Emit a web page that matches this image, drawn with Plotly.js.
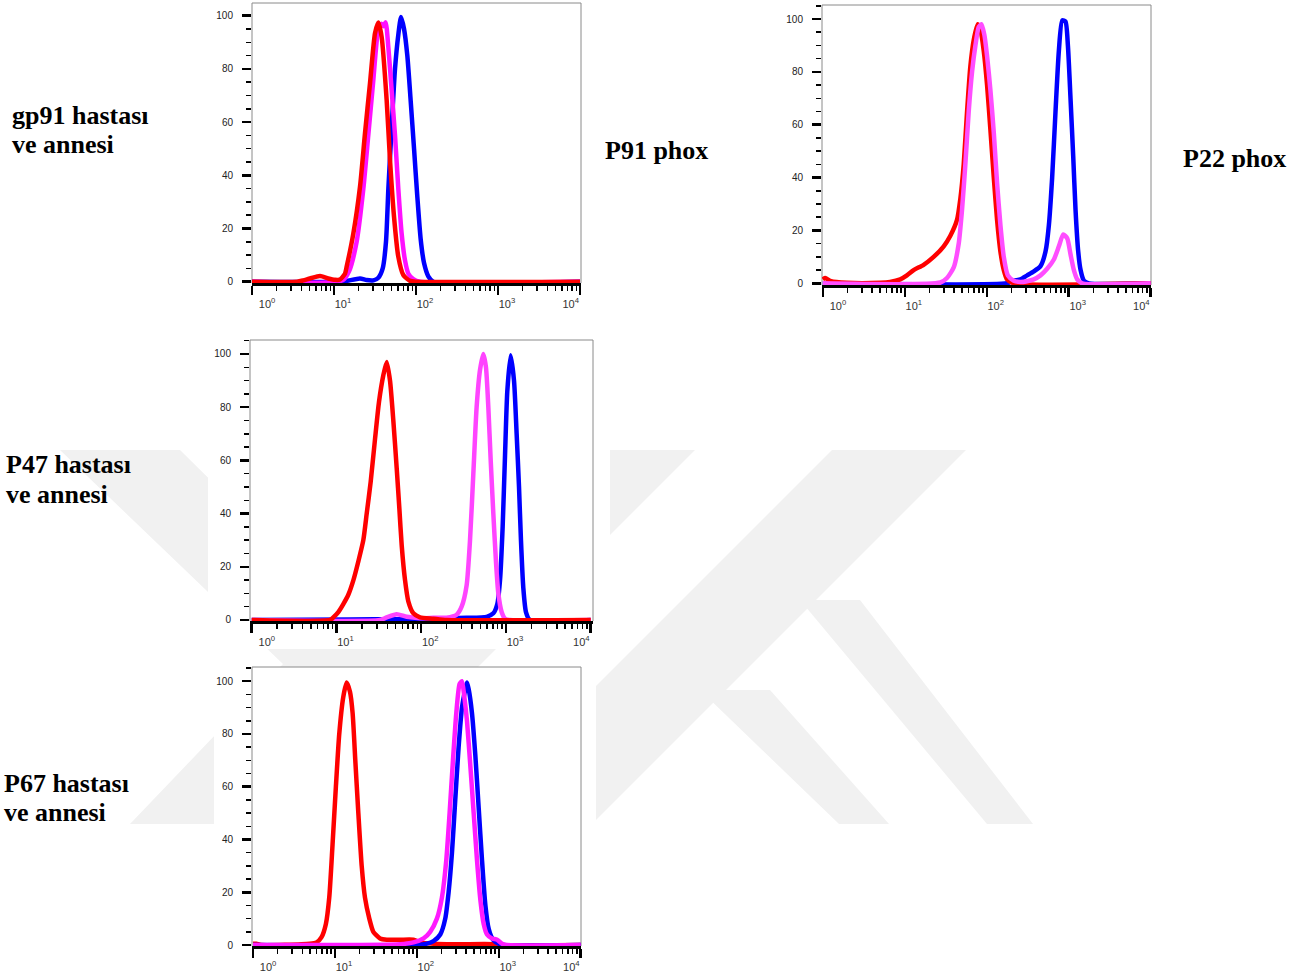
<!DOCTYPE html>
<html>
<head>
<meta charset="utf-8">
<script src="https://cdn.plot.ly/plotly-3.0.1.min.js"></script>
<style>html,body{margin:0;padding:0;background:#fff;}#chart{width:1311px;height:978px;}</style>
</head>
<body>
<div id="chart"></div>
<script>
// ---- Data: x given as log10(fluorescence intensity), y = % of max ----
// Panel 1: gp91 patient & mother, P91 phox
const p91_blue_log = [0, 1.073, 1.154, 1.317, 1.398, 1.48, 1.541, 1.594, 1.634, 1.663, 1.703, 1.744, 1.785, 1.817, 1.854, 1.894, 1.935, 1.976, 2.016, 2.057, 2.098, 2.15, 2.211, 4.0];
const p91_blue_y   = [0, 0, 0.3, 1.2, 0.6, 0.5, 1.5, 5, 15, 35, 58, 80, 93, 99.5, 95, 85, 68, 50, 32, 16, 7, 2, 0, 0];
const p91_mag_log  = [0, 1.104, 1.185, 1.276, 1.358, 1.418, 1.48, 1.541, 1.58, 1.602, 1.63, 1.663, 1.703, 1.744, 1.784, 1.825, 1.866, 1.907, 1.967, 2.049, 4.0];
const p91_mag_y    = [0, 0.5, 4, 15, 35, 55, 76, 95, 97, 96, 97.5, 88, 72, 55, 35, 18, 8, 3, 1, 0, 0];
const p91_red_log  = [0, 0.55, 0.626, 0.707, 0.829, 0.93, 1.012, 1.073, 1.134, 1.154, 1.236, 1.317, 1.378, 1.439, 1.5, 1.541, 1.581, 1.642, 1.683, 1.732, 1.784, 1.845, 1.927, 2.0, 4.0];
const p91_red_y    = [0, 0, 0.5, 1.2, 2.1, 1.2, 0.7, 0.8, 3, 5.6, 18.2, 35.7, 55.8, 74.6, 93.4, 97.4, 92, 68.3, 45.7, 24.4, 9.4, 2.5, 0.3, 0, 0];

// Panel 2: P22 phox
const p22_blue_log = [0, 2.248, 2.33, 2.411, 2.493, 2.574, 2.656, 2.717, 2.758, 2.798, 2.839, 2.88, 2.921, 2.961, 2.99, 3.022, 3.055, 3.083, 3.116, 3.145, 3.185, 3.246, 4.0];
const p22_blue_y   = [0, 0, 1, 1.5, 3, 4.5, 6.5, 12, 22, 40, 65, 88, 99.5, 99, 90, 70, 48, 28, 12, 5, 1, 0, 0];
const p22_red_log  = [0, 0.03, 0.1, 0.29, 0.7, 0.82, 0.945, 1.026, 1.108, 1.23, 1.352, 1.475, 1.556, 1.637, 1.678, 1.719, 1.76, 1.8, 1.841, 1.89, 1.923, 1.963, 2.004, 2.045, 2.086, 2.126, 2.167, 2.208, 2.248, 2.33, 4.0];
const p22_red_y    = [1.5, 2, 0.8, 0.2, 0.2, 0.5, 1.5, 3, 5, 7, 10, 14, 18, 24, 32, 45, 65, 82, 92, 98, 96, 88, 75, 58, 40, 24, 12, 5, 1.5, 0, 0];
const p22_mag_log  = [0, 1.434, 1.515, 1.597, 1.658, 1.699, 1.739, 1.78, 1.821, 1.862, 1.902, 1.935, 1.971, 2.004, 2.045, 2.086, 2.126, 2.167, 2.208, 2.257, 2.33, 2.411, 2.493, 2.574, 2.656, 2.737, 2.819, 2.88, 2.933, 2.982, 3.022, 3.063, 3.104, 3.165, 4.0];
const p22_mag_y    = [0, 0.3, 2, 6, 15, 28, 45, 65, 80, 90, 97, 98, 94, 86, 73, 57, 38, 22, 10, 3, 1, 0.5, 0.8, 1.5, 3, 5.5, 9, 14, 18.5, 17, 11, 5, 1.5, 0, 0];

// Panel 3: P47 patient & mother
const p47_blue_log = [0, 1.16, 1.75, 2.143, 2.536, 2.772, 2.851, 2.898, 2.93, 2.961, 2.989, 3.016, 3.055, 3.095, 3.126, 3.154, 3.177, 3.205, 3.236, 3.283, 4.0];
const p47_blue_y   = [0, 0.2, 0.3, 0.5, 0.8, 1.2, 2.5, 6, 15, 35, 62, 86, 99.5, 90, 70, 50, 30, 12, 3, 0, 0];
const p47_mag_log  = [0, 1.515, 1.593, 1.711, 1.829, 1.986, 2.143, 2.3, 2.418, 2.477, 2.536, 2.576, 2.615, 2.654, 2.694, 2.733, 2.764, 2.792, 2.82, 2.851, 2.882, 2.91, 2.949, 2.989, 3.048, 4.0];
const p47_mag_y    = [0, 0, 1, 2.2, 1.2, 0.7, 0.8, 0.9, 2, 5, 13, 30, 55, 80, 94, 100, 95, 80, 60, 40, 22, 10, 3, 0.5, 0, 0];
const p47_red_log  = [0, 0.924, 0.963, 1.022, 1.081, 1.14, 1.2, 1.258, 1.317, 1.357, 1.404, 1.455, 1.502, 1.553, 1.593, 1.632, 1.671, 1.711, 1.742, 1.77, 1.809, 1.848, 1.907, 1.986, 2.143, 2.3, 4.0];
const p47_red_y    = [0, 0, 1, 3, 6, 9.5, 15, 22, 30, 40, 52, 68, 82, 92, 97, 90, 75, 57, 42, 28, 15, 7, 2.5, 1, 0.5, 0, 0];

// Panel 4: P67 patient & mother
const p67_red_log  = [0, 0.04, 0.1, 0.694, 0.776, 0.837, 0.89, 0.931, 0.971, 1.012, 1.053, 1.102, 1.143, 1.184, 1.216, 1.249, 1.286, 1.327, 1.367, 1.42, 1.469, 1.551, 1.633, 1.796, 1.959, 2.041, 2.204, 2.449, 2.939, 3.02, 4.0];
const p67_red_y    = [0.5, 0.5, 0, 0.5, 1, 3, 8, 18, 38, 60, 80, 94, 99.5, 96, 88, 70, 50, 30, 18, 10, 5, 2.5, 2, 2, 2, 1, 0.5, 0.3, 0.3, 0, 0];
const p67_blue_log = [0, 2.0, 2.122, 2.204, 2.286, 2.347, 2.388, 2.429, 2.469, 2.51, 2.551, 2.592, 2.612, 2.633, 2.673, 2.714, 2.755, 2.796, 2.837, 2.878, 2.931, 3.0, 3.061, 4.0];
const p67_blue_y   = [0, 0, 0.5, 1.5, 4, 10, 20, 35, 55, 75, 90, 97, 99.5, 97, 88, 72, 52, 32, 15, 6, 2, 0.5, 0, 0];
const p67_mag_log  = [0, 1.796, 1.959, 2.082, 2.163, 2.245, 2.306, 2.359, 2.4, 2.441, 2.482, 2.522, 2.551, 2.58, 2.612, 2.653, 2.694, 2.735, 2.776, 2.816, 2.857, 2.918, 2.98, 3.041, 3.102, 4.0];
const p67_mag_y    = [0, 0.3, 1, 2.5, 5, 10, 18, 32, 50, 70, 88, 99, 100, 94, 85, 68, 50, 32, 17, 8, 4, 2.5, 2, 0.5, 0, 0];

// Tick labels (first/last decade labels sit inward, as in the original FlowJo plots)
const FS = '\u2007';
const xTickVals = [1, 10, 100, 1000, 10000];
const xTickText = [FS + FS + '10<sup>0</sup>', '10<sup>1</sup>', '10<sup>2</sup>', '10<sup>3</sup>', '10<sup>4</sup>' + FS.repeat(6)];
const yTickVals = [0, 20, 40, 60, 80, 100];

// Labels
const rowLabels = [
  {lines: ['gp91 hastası', 've annesi'], x: 10, y: [115.5, 144.5]},
  {lines: ['P47 hastası', 've annesi'], x: 4, y: [464.5, 494.5]},
  {lines: ['P67 hastası', 've annesi'], x: 2, y: [783.5, 812]}
];
const sideLabels = [
  {text: 'P91 phox', x: 603, y: 150},
  {text: 'P22 phox', x: 1181, y: 158}
];

// ---- Layout helpers ----
const W = 1311, H = 978;
const px = v => v / W;
const py = v => 1 - v / H;
const toX = arr => arr.map(e => Math.pow(10, e));

const RED = '#ff0000', BLUE = '#0000ff';
const panels = [
  {xd: [252, 581], yd: [3, 283], xr: [0, 4.012], yr: [-0.49, 104.77],
   series: [[p91_blue_log, p91_blue_y, BLUE], [p91_mag_log, p91_mag_y, '#ff10ff'], [p91_red_log, p91_red_y, RED]]},
  {xd: [822, 1151], yd: [5, 285], xr: [-0.01, 4.004], yr: [-0.64, 105.3],
   series: [[p22_blue_log, p22_blue_y, BLUE], [p22_red_log, p22_red_y, RED], [p22_mag_log, p22_mag_y, '#ff4dff']]},
  {xd: [250, 593], yd: [340, 621], xr: [-0.02, 4.027], yr: [-0.38, 105.26],
   series: [[p47_blue_log, p47_blue_y, BLUE], [p47_mag_log, p47_mag_y, '#ff44ff'], [p47_red_log, p47_red_y, RED]]},
  {xd: [252, 581], yd: [667, 946], xr: [-0.012, 4.004], yr: [-0.38, 105.4],
   series: [[p67_red_log, p67_red_y, RED], [p67_blue_log, p67_blue_y, BLUE], [p67_mag_log, p67_mag_y, '#ff1aff']]}
];

const minorX = [];
[1, 10, 100, 1000].forEach(d => { for (let k = 2; k <= 9; k++) minorX.push(k * d); });

const traces = [];
const layout = {
  width: W, height: H,
  margin: {l: 0, r: 0, t: 0, b: 0},
  paper_bgcolor: '#ffffff',
  plot_bgcolor: 'rgba(0,0,0,0)',
  showlegend: false,
  shapes: [],
  annotations: []
};

// Watermark (faint grey logo behind the lower panels)
const WM = '#f1f1f1';
const wmPolys = [
  [[60,450],[180,450],[399,666],[250,824],[130,824],[283,664]],
  [[575,450],[695,450],[321,824],[201,824]],
  [[832,450],[966,450],[592,824],[458,824]],
  [[700,690],[770,690],[889,824],[839,824]],
  [[800,600],[860,600],[1033,824],[987,824]]
];
wmPolys.forEach(p => {
  const d = 'M ' + p.map(q => px(q[0]) + ',' + py(q[1])).join(' L ') + ' Z';
  layout.shapes.push({type: 'path', xref: 'paper', yref: 'paper', path: d, fillcolor: WM, line: {width: 0}, layer: 'below'});
});
// White backing boxes of the lower panels
[[208, 338, 610, 649], [214, 667, 596, 978]].forEach(b => {
  layout.shapes.push({type: 'rect', xref: 'paper', yref: 'paper', x0: px(b[0]), x1: px(b[2]), y0: py(b[3]), y1: py(b[1]),
    fillcolor: '#ffffff', line: {width: 0}, layer: 'below'});
});

panels.forEach((p, i) => {
  const n = i === 0 ? '' : String(i + 1);
  const xa = 'xaxis' + n, ya = 'yaxis' + n;
  layout[xa] = {
    domain: [px(p.xd[0]), px(p.xd[1])], anchor: 'y' + n,
    type: 'log', range: p.xr, automargin: false,
    showgrid: false, zeroline: false,
    showline: true, linecolor: '#000', linewidth: 2.5,
    ticks: 'outside', ticklen: 9, tickwidth: 2.5, tickcolor: '#000',
    tickmode: 'array', tickvals: xTickVals, ticktext: xTickText,
    ticklabelshift: 9, ticklabelstandoff: 0,
    tickfont: {family: 'Liberation Sans, Arial, sans-serif', size: 11, color: '#333'},
    minor: {tickmode: 'array', tickvals: minorX, ticks: 'outside', ticklen: 5, tickwidth: 1.5, tickcolor: '#000', showgrid: false},
    fixedrange: true
  };
  layout[ya] = {
    domain: [py(p.yd[1]), py(p.yd[0])], anchor: 'x' + n,
    range: p.yr, automargin: false,
    showgrid: false, zeroline: false, showline: false,
    ticks: 'outside', ticklen: 9, tickwidth: 2.5, tickcolor: '#000',
    tickmode: 'array', tickvals: yTickVals,
    ticklabelstandoff: 7,
    tickfont: {family: 'Liberation Sans, Arial, sans-serif', size: 10, color: '#222'},
    minor: {dtick: 5, tick0: 0, ticks: 'outside', ticklen: 5, tickwidth: 1.5, tickcolor: '#000', showgrid: false},
    fixedrange: true
  };
  // frame: left, top, right edges in thin grey
  const x0 = px(p.xd[0]), x1 = px(p.xd[1]), yt = py(p.yd[0]), yb = py(p.yd[1]);
  layout.shapes.push({type: 'path', xref: 'paper', yref: 'paper',
    path: `M ${x0},${yb} L ${x0},${yt} L ${x1},${yt} L ${x1},${yb}`,
    line: {color: '#8a8a8a', width: 1}, layer: 'below'});
  p.series.forEach(s => {
    traces.push({
      type: 'scatter', mode: 'lines',
      x: toX(s[0]), y: s[1],
      xaxis: 'x' + n, yaxis: 'y' + n,
      line: {color: s[2], width: 4.5, shape: 'spline', smoothing: 0.6},
      hoverinfo: 'skip'
    });
  });
});

const labelFont = {family: 'Liberation Serif, Times New Roman, serif', size: 26, color: '#000'};
rowLabels.forEach(r => {
  r.lines.forEach((t, k) => {
    layout.annotations.push({xref: 'paper', yref: 'paper', x: px(r.x), y: py(r.y[k]),
      xanchor: 'left', yanchor: 'middle', showarrow: false, text: '<b>' + t + '</b>', font: labelFont});
  });
});
sideLabels.forEach(s => {
  layout.annotations.push({xref: 'paper', yref: 'paper', x: px(s.x), y: py(s.y),
    xanchor: 'left', yanchor: 'middle', showarrow: false, text: '<b>' + s.text + '</b>', font: labelFont});
});

Plotly.newPlot('chart', traces, layout, {staticPlot: true, displayModeBar: false});
</script>
</body>
</html>
